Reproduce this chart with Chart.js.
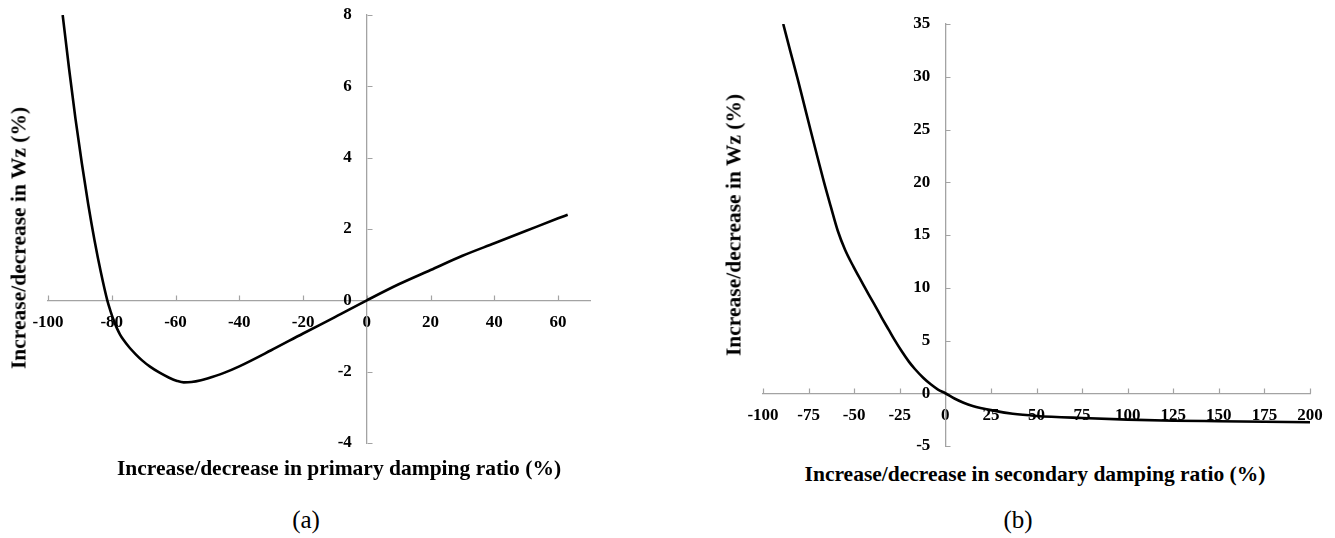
<!DOCTYPE html>
<html>
<head>
<meta charset="utf-8">
<script src="https://cdn.jsdelivr.net/npm/chart.js@4.4.1/dist/chart.umd.min.js"></script>
<style>
  html, body { margin: 0; padding: 0; background: #fff; }
  body { width: 1335px; height: 538px; position: relative; overflow: hidden;
         font-family: "Liberation Serif", "Times New Roman", serif; color: #000; }
  canvas { position: absolute; top: 0; }
  .lbl { position: absolute; white-space: nowrap; transform: translate(-50%, -50%); }
  .axt { font-weight: bold; font-size: 21.5px; }
  .yt  { transform: translate(-50%, -50%) rotate(-90deg); }
  .cap { font-size: 25px; }
</style>
</head>
<body>
<canvas id="chartA" width="640" height="460" style="left:0px"></canvas>
<canvas id="chartB" width="675" height="460" style="left:660px"></canvas>

<div class="lbl axt yt" style="left:19px; top:238px">Increase/decrease in Wz (%)</div>
<div class="lbl axt" style="left:339px; top:468px">Increase/decrease in primary damping ratio (%)</div>
<div class="lbl cap" style="left:306px; top:520px">(a)</div>

<div class="lbl axt yt" style="left:734px; top:225px">Increase/decrease in Wz (%)</div>
<div class="lbl axt" style="left:1035px; top:474px">Increase/decrease in secondary damping ratio (%)</div>
<div class="lbl cap" style="left:1018px; top:520px">(b)</div>

<script>
// (a) change in Wz versus change in primary damping ratio
const primaryRatio = [-95.4, -93.4, -91.4, -89.4, -87.4, -85.4, -83.4, -81.4, -80.4, -79.4, -78.4, -77.4, -76.4, -74.4, -72.4, -70.4, -68, -65, -62, -59.5, -57.4, -55, -52, -50, -45, -40, -30, -20, -10, 0, 10, 20, 30, 40, 50, 60, 63];
const wzPrimary    = [8.0, 6.5, 5.1, 3.85, 2.7, 1.68, 0.78, 0.0, -0.3, -0.56, -0.78, -0.96, -1.1, -1.33, -1.52, -1.69, -1.86, -2.03, -2.17, -2.26, -2.3, -2.29, -2.24, -2.19, -2.04, -1.85, -1.4, -0.93, -0.47, 0, 0.45, 0.85, 1.25, 1.6, 1.95, 2.3, 2.4];

// (b) change in Wz versus change in secondary damping ratio
const secondaryRatio = [-88.9, -85, -81, -77.5, -74, -70, -66.7, -63, -59, -55, -50.4, -46, -42, -39, -35, -31, -28, -24, -20, -16.7, -12, -8, -4, 0, 5, 10, 15, 25, 37, 50, 75, 100, 125, 150, 175, 200];
const wzSecondary    = [35, 32.4, 29.8, 27.4, 25, 22.3, 20.1, 17.8, 15.4, 13.6, 12.0, 10.6, 9.35, 8.45, 7.2, 6.0, 5.1, 4.0, 3.0, 2.3, 1.45, 0.85, 0.35, 0, -0.5, -0.9, -1.2, -1.6, -1.95, -2.15, -2.35, -2.5, -2.6, -2.65, -2.7, -2.75];

// axis ranges and tick values
const primaryXRange   = [-100, 70];
const primaryXTicks   = [-100, -80, -60, -40, -20, 0, 20, 40, 60];
const primaryYRange   = [-4, 8];
const primaryYTicks   = [-4, -2, 0, 2, 4, 6, 8];
const secondaryXRange = [-100, 200];
const secondaryXTicks = [-100, -75, -50, -25, 0, 25, 50, 75, 100, 125, 150, 175, 200];
const secondaryYRange = [-5, 35];
const secondaryYTicks = [-5, 0, 5, 10, 15, 20, 25, 30, 35];

const AXIS_COLOR = '#a3a3a3';
const FONT = '"Liberation Serif", "Times New Roman", serif';
const Y_LABEL_GAP = 15;

// Small tick marks pointing into the plot from both crossing axes,
// and a gap between the value axis and its labels
const crossAxes = {
  id: 'crossAxes',
  beforeDraw(chart) {
    const y = chart.scales.y;
    const items = y._computeLabelItems(chart.chartArea);
    items.forEach(it => { it.options.translation[0] -= Y_LABEL_GAP; });
    y._labelItems = items;
  },
  beforeDatasetsDraw(chart) {
    const { ctx, scales: { x, y } } = chart;
    const x0 = Math.round(x.getPixelForValue(0)) + 0.5;
    const y0 = Math.round(y.getPixelForValue(0)) + 0.5;
    ctx.save();
    ctx.strokeStyle = AXIS_COLOR;
    ctx.lineWidth = 1.2;
    ctx.beginPath();
    x.ticks.forEach(t => {
      const px = Math.round(x.getPixelForValue(t.value)) + 0.5;
      ctx.moveTo(px, y0); ctx.lineTo(px, y0 - 5);
    });
    y.ticks.forEach(t => {
      const py = Math.round(y.getPixelForValue(t.value)) + 0.5;
      ctx.moveTo(x0, py); ctx.lineTo(x0 + 5, py);
    });
    ctx.stroke();
    ctx.restore();
  }
};

function tickFont() {
  return { family: FONT, size: 17, weight: 'bold' };
}

function buildChart(id, xs, ys, xRange, xTicks, yRange, yTicks, padding) {
  const points = xs.map((v, i) => ({ x: v, y: ys[i] }));
  return new Chart(document.getElementById(id), {
    type: 'line',
    data: {
      datasets: [{
        data: points,
        borderColor: '#000',
        borderWidth: 2.6,
        pointRadius: 0,
        fill: false,
        cubicInterpolationMode: 'monotone'
      }]
    },
    options: {
      responsive: false,
      animation: false,
      devicePixelRatio: 1,
      layout: { padding },
      plugins: { legend: { display: false }, tooltip: { enabled: false }, title: { display: false } },
      scales: {
        x: {
          type: 'linear',
          min: xRange[0], max: xRange[1],
          position: { y: 0 },
          afterFit: s => { s.height = 0; s.paddingLeft = 0; s.paddingRight = 0; s.paddingTop = 0; s.paddingBottom = 0; },
          afterBuildTicks: s => { s.ticks = xTicks.map(v => ({ value: v })); },
          grid: { display: false, drawTicks: false },
          border: { display: true, color: AXIS_COLOR, width: 1.3 },
          ticks: { padding: 12, autoSkip: false, maxRotation: 0, color: '#000', font: tickFont() }
        },
        y: {
          type: 'linear',
          min: yRange[0], max: yRange[1],
          position: { x: 0 },
          afterFit: s => { s.width = 0; s.paddingLeft = 0; s.paddingRight = 0; s.paddingTop = 0; s.paddingBottom = 0; },
          afterBuildTicks: s => { s.ticks = yTicks.map(v => ({ value: v })); },
          grid: { display: false, drawTicks: false },
          border: { display: true, color: AXIS_COLOR, width: 1.3 },
          ticks: { padding: 0, autoSkip: false, color: '#000', font: tickFont() }
        }
      }
    },
    plugins: [crossAxes]
  });
}

buildChart('chartA', primaryRatio, wzPrimary, primaryXRange, primaryXTicks, primaryYRange, primaryYTicks,
           { left: 48, right: 50, top: 15, bottom: 17 });
buildChart('chartB', secondaryRatio, wzSecondary, secondaryXRange, secondaryXTicks, secondaryYRange, secondaryYTicks,
           { left: 103, right: 25, top: 24, bottom: 14 });
</script>
</body>
</html>
